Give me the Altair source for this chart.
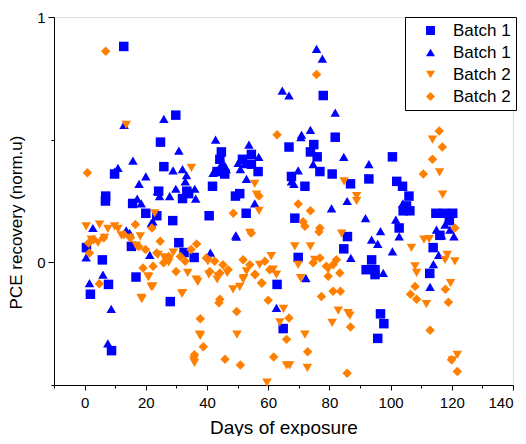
import altair as alt
import pandas as pd

# ---- data ----
b1s_x = [12.8, 29.8, 24.8, 25.9, 44.7, 44.2, 43.3, 41.8, 45.8, 9.8, 6.9, 6.8, 15.7, 20.0, 23.6, 28.8,
         33.4, 34.0, 32.0, 24.2, 0.6, 5.8, 7.8, 1.9, 16.8, 30.8, 32.5, 35.8, 28.0, 8.8, 15.3, 49.3,
         50.7, 54.5, 56.7, 54.5, 51.6, 52.8, 40.7, 78.0, 81.9, 66.8, 74.9, 73.8, 76.0, 76.9, 80.9,
         72.0, 67.6, 86.9, 92.9, 100.6, 102.0, 103.9, 106.0, 105.2, 106.3, 104.1, 114.8, 117.4,
         120.3, 119.2, 116.1, 113.9, 93.8, 92.0, 94.9, 94.9, 112.8, 68.7, 85.9, 84.7, 69.8, 62.9,
         64.9, 96.7, 97.8, 95.8, 102.8]
b1s_y = [0.88, 0.60, 0.49, 0.39, 0.45, 0.42, 0.37, 0.31, 0.36, 0.36, 0.27, 0.25, 0.24, 0.20, 0.19, 0.17,
         0.29, 0.28, 0.26, 0.29, 0.06, 0.01, -0.09, -0.13, -0.06, 0.08, 0.04, 0.02, -0.16, -0.36, 0.065, 0.27,
         0.28, 0.40, 0.37, 0.44, 0.42, 0.20, 0.19, 0.68, 0.51, 0.47, 0.48, 0.45, 0.43, 0.37, 0.36,
         0.31, 0.35, 0.32, 0.34, 0.43, 0.33, 0.31, 0.27, 0.23, 0.21, 0.21, 0.20, 0.20,
         0.20, 0.17, 0.11, 0.06, 0.01, -0.03, -0.03, -0.05, -0.045, 0.18, 0.105, 0.055, 0.02, -0.09,
         -0.27, -0.21, -0.25, -0.31, 0.14]

b1t_x = [12.9, 25.9, 42.8, 30.8, 15.8, 10.9, 9.8, 28.9, 32.0, 20.0, 33.3, 32.9, 17.8, 23.8, 29.8, 36.0,
         44.2, 44.7, 46.0, 42.0, 46.3, 50.2, 17.2, 24.5, 27.8, 18.5, 36.3, 6.9, 13.6, 14.7, 22.3, 21.8,
         2.7, 0.5, 1.6, 6.0, 8.7, 7.6, 41.1, 49.4, 21.3, 75.8, 77.7, 64.6, 66.8, 81.9, 73.8, 70.9, 70.7,
         53.7, 56.9, 54.5, 84.7, 92.9, 74.7, 51.2, 52.3, 50.9, 52.9, 69.8, 67.6, 68.4, 45.2, 55.6, 49.6,
         80.7, 85.8, 91.8, 96.7, 93.8, 95.8, 100.6, 101.7, 102.8, 87.0, 97.6, 72.3, 62.7, 104.0, 104.7,
         115.0, 117.8, 119.4, 120.7, 116.7, 115.7, 114.0, 112.9]
b1t_y = [0.56, 0.585, 0.50, 0.455, 0.415, 0.385, 0.37, 0.375, 0.38, 0.35, 0.355, 0.33, 0.32, 0.29, 0.30, 0.30,
         0.43, 0.40, 0.39, 0.365, 0.38, 0.405, 0.26, 0.27, 0.27, 0.24, 0.26, 0.25, 0.13, 0.12, 0.167, 0.16,
         0.14, 0.02, -0.085, -0.05, -0.19, -0.33, 0.04, 0.11, 0.03, 0.87, 0.83, 0.70, 0.68, 0.61, 0.54, 0.52, 0.51,
         0.48, 0.43, 0.44, 0.43, 0.40, 0.40, 0.42, 0.40, 0.38, 0.34, 0.375, 0.33, 0.32, 0.405, 0.24, 0.105,
         0.22, 0.25, 0.18, 0.127, 0.093, 0.075, 0.045, 0.174, 0.106, 0.018, -0.043, -0.064, -0.186, 0.24, 0.21,
         0.133, 0.154, 0.133, 0.106, 0.11, 0.03, -0.007, -0.10]

b2t_x = [13.6, 34.9, 22.9, 0.5, 4.9, 7.6, 9.8, 10.9, 2.2, 4.4, 6.5, 12.0, 14.7, 16.9, 18.2, 20.7, 22.3,
         18.5, 32.0, 36.5, 37.6, 35.7, 48.5, 50.7, 24.0, 26.0, 27.5, 29.0, 33.7, 40.6, 43.3, 46.6, 52.0,
         43.6, 40.3, 55.6, 56.2, 57.0, 54.0, 84.8, 88.9, 88.9, 84.0, 68.7, 73.8, 61.0, 69.8, 57.2, 61.6,
         62.7, 75.2, 79.6, 52.9, 51.8, 70.6, 65.0, 63.8, 49.8, 72.0, 66.0, 67.0, 72.8, 82.9, 86.1, 86.7,
         80.9, 106.8, 108.0, 108.5, 116.0, 117.0, 113.7, 110.9, 112.6, 118.5, 117.8, 121.0, 111.7, 119.6,
         121.8, 120.2, 59.6, 31.8, 37.0, 37.8, 35.9, 18.7, 21.8, 20.9]
b2t_y = [0.56, 0.385, 0.20, 0.147, 0.154, 0.136, 0.147, 0.136, 0.093, 0.079, 0.10, 0.11, 0.10, 0.068, 0.106, -0.057, -0.098,
         -0.145, -0.125, -0.07, -0.295, -0.40, -0.11, -0.10, 0.03, 0.02, 0.0, 0.04, -0.043, -0.05, -0.07, -0.043, -0.064,
         -0.057, 0.004, 0.32, 0.276, 0.21, 0.12, 0.33, 0.27, 0.25, 0.117, 0.065, 0.065, 0.025, -0.01, -0.01, -0.03,
         -0.05, 0.01, -0.03, -0.037, -0.07, -0.064, -0.19, -0.245, -0.295, -0.295, -0.42, -0.42, -0.43, -0.197, -0.207, -0.217,
         -0.247, 0.059, -0.016, -0.043, 0.367, 0.276, 0.50, 0.093, 0.095, 0.03, 0.01, 0.004, -0.17, -0.085,
         -0.377, -0.40, -0.49, -0.128, -0.08, -0.30, -0.41, -0.15, -0.10, -0.06]

b2d_x = [6.9, 0.9, 75.8, 62.9, 115.9, 116.9, 113.7, 110.7, 121.0, 117.9, 118.9, 108.0, 106.5, 108.5, 112.9,
         119.9, 121.8, 16.6, 22.0, 24.7, 1.6, 4.8, 19.1, 22.4, 36.6, 34.8, 48.6, 43.9, 37.8, 38.8, 35.9,
         45.9, 49.7, 57.0, 69.8, 73.8, 71.4, 72.0, 76.9, 76.6, 54.5, 39.8, 42.5, 45.2, 46.9, 44.2, 40.9,
         51.8, 54.0, 55.6, 58.9, 60.5, 74.7, 76.9, 79.0, 81.2, 82.3, 83.4, 79.6, 57.8, 77.4, 81.2, 83.6,
         60.0, 66.8, 86.9, 66.0, 72.9, 50.9, 61.8, 85.8, 44.2, 31.3, 25.8, 27.5, 32.9, 23.6, 3.0, 6.2,
         1.3, 12.8, 15.0, 17.7, 19.9, 29.9, 55.8, 58.0]
b2d_y = [0.86, 0.365, 0.766, 0.52, 0.535, 0.47, 0.42, 0.36, 0.14, -0.11, -0.163, -0.098, -0.13, -0.15, -0.277,
         -0.397, -0.445, 0.154, 0.14, 0.086, 0.038, -0.087, -0.023, -0.016, 0.075, 0.052, 0.20, -0.165, -0.23, -0.344, -0.377,
         -0.395, -0.20, 0.27, 0.238, 0.21, 0.165, 0.147, 0.14, 0.125, 0.12, 0.018, 0.004, -0.01, -0.03, -0.043, -0.037,
         0.011, -0.01, -0.05, 0.004, -0.03, -0.002, 0.018, -0.016, -0.01, 0.011, -0.043, -0.057, -0.084, -0.139, -0.118, -0.118,
         -0.155, -0.227, -0.264, -0.314, -0.364, -0.418, -0.386, -0.452, -0.15, 0.024, -0.002, 0.024, 0.004, 0.038, 0.093, 0.10,
         0.079, 0.113, 0.10, 0.065, 0.052, -0.037, -0.05, -0.084]

series_keys = ["b1s", "b1t", "b2t", "b2d"]
series_labels = ["Batch 1", "Batch 1", "Batch 2", "Batch 2"]
shapes = ["square", "triangle-up", "triangle-down", "diamond"]
colors = ["#0000FF", "#0000FF", "#FF8000", "#FF8000"]

x_major = [0, 20, 40, 60, 80, 100, 120, 140]
x_minor = [-10, 10, 30, 50, 70, 90, 110, 130]
y_major = [0, 1]
y_minor = [-0.5, 0.5]

rows = []
for key, xs, ys in [("b1s", b1s_x, b1s_y), ("b1t", b1t_x, b1t_y),
                    ("b2t", b2t_x, b2t_y), ("b2d", b2d_x, b2d_y)]:
    for a, b in zip(xs, ys):
        rows.append({"series": key, "day": a, "val": b})
df = pd.DataFrame(rows)

FONT = "Liberation Sans"
label_expr = ("datum.label == 'b1s' || datum.label == 'b1t' ? '%s' : '%s'"
              % (series_labels[0], series_labels[2]))

legend = alt.Legend(
    title=None, orient="none", legendX=351, legendY=0,
    strokeColor="black", fillColor="white", padding=5,
    labelFont=FONT, labelFontSize=17, labelColor="black",
    symbolSize=80, symbolOffset=12, labelOffset=14, rowPadding=4,
    labelExpr=label_expr, symbolStrokeWidth=0,
)

x_scale = alt.Scale(domain=[-10, 140], nice=False, zero=False)
y_scale = alt.Scale(domain=[-0.5, 1], nice=False, zero=False)

points = alt.Chart(df).mark_point(filled=True, opacity=1, size=90, strokeWidth=0).encode(
    x=alt.X("day:Q", scale=x_scale,
            axis=alt.Axis(values=x_major, orient="bottom", title="Days of exposure", grid=False,
                          tickSize=5, tickColor="black", domainColor="black",
                          labelFont=FONT, labelFontSize=15, labelColor="black",
                          labelPadding=5, titleFont=FONT, titleFontSize=19,
                          titleFontWeight="normal", titleColor="black", titlePadding=8)),
    y=alt.Y("val:Q", scale=y_scale,
            axis=alt.Axis(values=y_major, orient="left", title="PCE recovery (norm.u)", grid=False,
                          tickSize=6, tickColor="black", domainColor="black",
                          labelFont=FONT, labelFontSize=15, labelColor="black",
                          labelPadding=3, titleFont=FONT, titleFontSize=17,
                          titleFontWeight="normal", titleColor="black",
                          titleX=-29, titleY=205)),
    color=alt.Color("series:N", scale=alt.Scale(domain=series_keys, range=colors), legend=legend),
    shape=alt.Shape("series:N", scale=alt.Scale(domain=series_keys, range=shapes), legend=legend),
)

minor = alt.Chart(df).mark_point(opacity=0).encode(
    x=alt.X("day:Q", scale=x_scale,
            axis=alt.Axis(values=x_minor, orient="bottom", labels=False, title=None, grid=False,
                          domain=False, tickSize=3, tickColor="black")),
    y=alt.Y("val:Q", scale=y_scale,
            axis=alt.Axis(values=y_minor, orient="left", labels=False, title=None, grid=False,
                          domain=False, tickSize=3, tickColor="black")),
)

chart = alt.layer(minor, points).resolve_axis(x="independent", y="independent").properties(
    width=459, height=368,
    autosize=alt.AutoSizeParams(type="none"),
    padding={"left": 46, "top": 9, "right": 5, "bottom": 51},
).configure_view(stroke="black", strokeWidth=1).configure(background="white")

chart.save("out.html", embed_options={"renderer": "svg", "actions": False})
